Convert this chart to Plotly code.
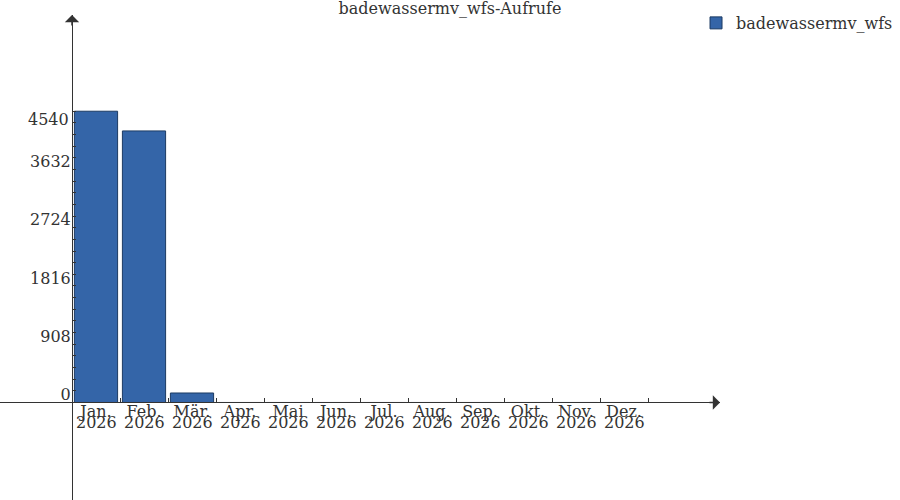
import plotly.graph_objects as go

# monthly call counts
months = ["Jan.", "Feb.", "Mär.", "Apr.", "Mai", "Jun.", "Jul.", "Aug.", "Sep.", "Okt.", "Nov.", "Dez."]
years = ["2026"] * 12
calls = [4540, 4233, 148, 0, 0, 0, 0, 0, 0, 0, 0, 0]
y_ticks = [0, 908, 1816, 2724, 3632, 4540]

font = "DejaVu Serif"
ink = "#333333"

# axis ranges: y axis sits at the left edge of Jan., x axis crosses at y=0
x_range = [-2, 13]
y_range = [-1520, 6040]
y_axis_pos = (-0.5 - x_range[0]) / (x_range[1] - x_range[0])
x_axis_pos = (0 - y_range[0]) / (y_range[1] - y_range[0])

minor_step = y_ticks[1] / 5
minor_vals = [i * minor_step for i in range(int(y_ticks[-1] / minor_step) + 1)]

fig = go.Figure()
fig.add_trace(go.Bar(x=months, y=calls, name="badewassermv_wfs",
                     marker=dict(color="#3465a8", line=dict(color="#1c3b63", width=1))))

fig.update_layout(
    width=900, height=500,
    margin=dict(l=0, r=180, t=15, b=0, autoexpand=False),
    paper_bgcolor="white", plot_bgcolor="white",
    font=dict(family=font, size=16, color=ink),
    bargap=0.1,
    title=dict(text="badewassermv_wfs-Aufrufe", x=0.5, xref="container", xanchor="center",
               y=0.984, yanchor="middle", font=dict(size=16, color=ink)),
    showlegend=True,
    legend=dict(x=0.9667, xanchor="left", y=1.0186, yanchor="top", font=dict(size=16, color=ink),
                bgcolor="rgba(0,0,0,0)"),
)

fig.update_xaxes(type="category", range=x_range, anchor="free", position=x_axis_pos,
                 showline=True, linecolor=ink, linewidth=1, showgrid=False, zeroline=False,
                 tickson="boundaries", ticks="inside", ticklen=4, tickcolor=ink,
                 tickmode="array", tickvals=months, ticktext=months,
                 ticklabelstandoff=-6)

fig.update_yaxes(range=y_range, anchor="free", position=y_axis_pos,
                 showline=True, linecolor=ink, linewidth=1, showgrid=False, zeroline=False,
                 ticks="inside", ticklen=3, tickcolor=ink,
                 tickmode="array", tickvals=y_ticks,
                 ticktext=[str(v) for v in y_ticks[:-1]] + [""],
                 ticklabelshift=-8, ticklabelstandoff=-2,
                 minor=dict(ticks="inside", ticklen=3, tickcolor=ink, tickmode="array",
                            tickvals=minor_vals, showgrid=False))

# top label sits just below its tick in the original
fig.add_annotation(x=y_axis_pos, xref="paper", y=y_ticks[-1], yref="y", text=str(y_ticks[-1]),
                   showarrow=False, xanchor="right", yanchor="middle", xshift=-1, yshift=-8,
                   font=dict(size=16, color=ink))

# second line of the x tick labels
for m, yr in zip(months, years):
    fig.add_annotation(x=m, xref="x", y=0, yref="y", text=yr, showarrow=False,
                       xanchor="center", yanchor="top", yshift=-9,
                       font=dict(size=16, color=ink))

# axis arrows
fig.add_annotation(x=y_axis_pos, xref="paper", y=1, yref="paper", ax=0, ay=12, text="",
                   showarrow=True, arrowhead=1, arrowsize=1.6, arrowwidth=1.5, arrowcolor=ink,
                   standoff=0)
fig.add_annotation(x=1, xref="paper", y=x_axis_pos, yref="paper", ax=-12, ay=0, text="",
                   showarrow=True, arrowhead=1, arrowsize=1.6, arrowwidth=1.5, arrowcolor=ink,
                   standoff=0)

# drop the browser's default page margin so the figure starts at the corner
fig.write_html("out.html", config={"displayModeBar": False},
               post_script="document.body.style.margin='0';")
